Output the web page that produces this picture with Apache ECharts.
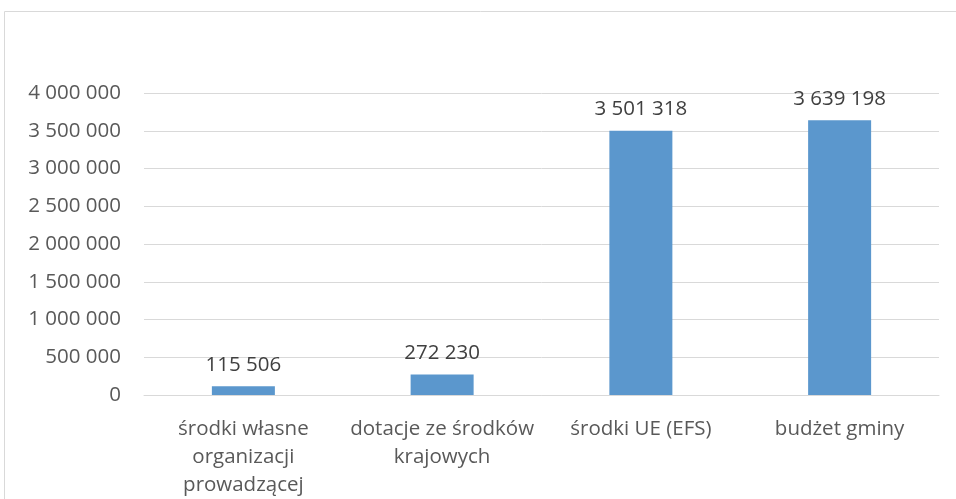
<!DOCTYPE html>
<html>
<head>
<meta charset="utf-8">
<script src="https://cdn.jsdelivr.net/npm/echarts@6/dist/echarts.min.js"></script>
<style>
  html, body { margin: 0; padding: 0; background: #fff; }
  #chart { width: 956px; height: 499px; }
</style>
</head>
<body>
<div id="chart"></div>
<script>
// kategorie (z ręcznym łamaniem linii jak w oryginale)
const categories = [
  'środki własne\norganizacji\nprowadzącej',
  'dotacje ze środków\nkrajowych',
  'środki UE (EFS)',
  'budżet gminy'
];
const values = [115506, 272230, 3501318, 3639198];
const yTicks = [0, 500000, 1000000, 1500000, 2000000, 2500000, 3000000, 3500000, 4000000];

// 3639198 -> "3 639 198"
function fmt(v) {
  return String(v).replace(/\B(?=(\d{3})+(?!\d))/g, ' ');
}

const chart = echarts.init(document.getElementById('chart'));
const font = '"Open Sans", "Noto Sans", sans-serif';

chart.setOption({
  animation: false,
  textStyle: { fontFamily: font },
  graphic: [{
    type: 'rect',
    shape: { x: 4.5, y: 11.5, width: 1000, height: 600 },
    style: { fill: 'none', stroke: '#d9d9d9', lineWidth: 1 },
    silent: true
  }],
  grid: { left: 144, right: 17, top: 93, bottom: 100 },
  xAxis: {
    type: 'category',
    data: categories,
    axisLine: { show: true, lineStyle: { color: '#d9d9d9', width: 1 } },
    axisTick: { show: false },
    axisLabel: {
      color: '#595959',
      fontSize: 20.5,
      fontFamily: font,
      lineHeight: 28,
      margin: 20,
      interval: 0
    }
  },
  yAxis: {
    type: 'value',
    min: yTicks[0],
    max: yTicks[yTicks.length - 1],
    interval: yTicks[1] - yTicks[0],
    axisLine: { show: false },
    axisTick: { show: false },
    splitLine: { lineStyle: { color: '#d9d9d9', width: 1 } },
    axisLabel: {
      color: '#595959',
      fontSize: 20.5,
      fontFamily: font,
      margin: 23,
      padding: [4, 0, 0, 0],
      formatter: fmt
    }
  },
  series: [{
    type: 'bar',
    data: values,
    barWidth: '31.7%',
    itemStyle: { color: '#5b97cd' },
    label: {
      show: true,
      position: 'top',
      distance: 11,
      color: '#404040',
      fontSize: 20.5,
      fontFamily: font,
      formatter: p => fmt(p.value)
    }
  }]
});
</script>
</body>
</html>
